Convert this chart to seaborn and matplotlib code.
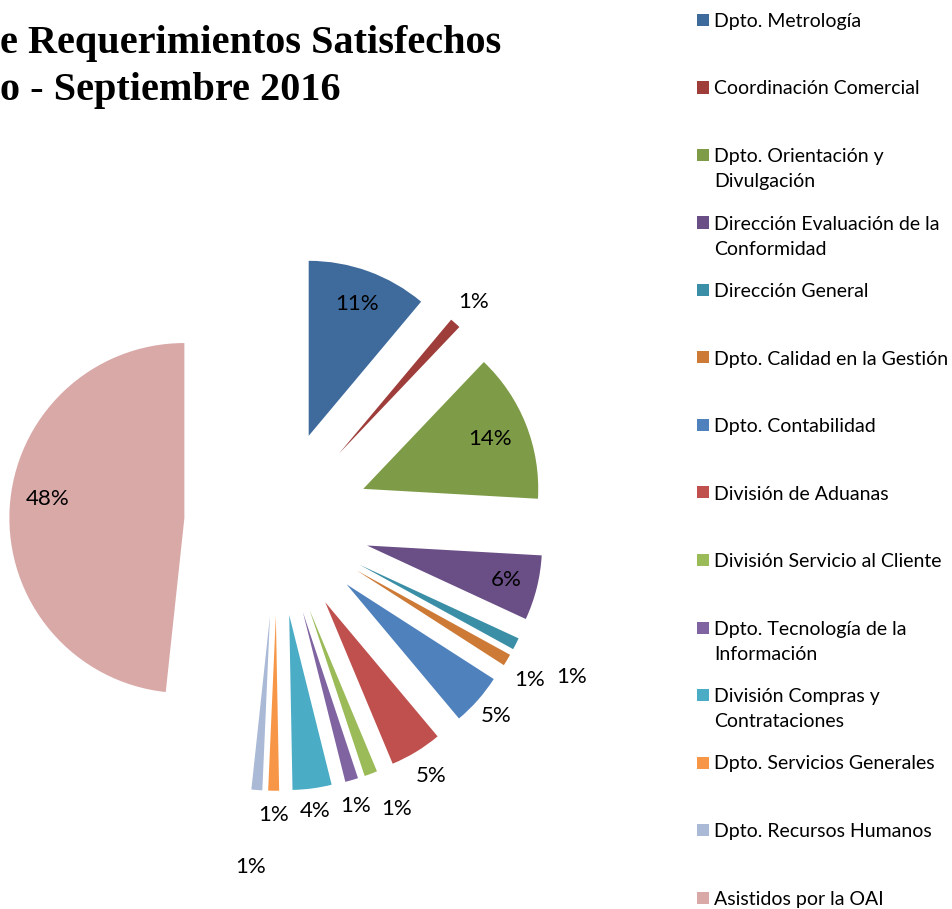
import matplotlib
matplotlib.use("Agg")
import matplotlib.pyplot as plt
import matplotlib.patches as mpatches
import numpy as np
import seaborn as sns

# --- datos (porcentaje de requerimientos) ---
areas = [
    "Dpto. Metrología",
    "Coordinación Comercial",
    "Dpto. Orientación y\nDivulgación",
    "Dirección Evaluación de la\nConformidad",
    "Dirección General",
    "Dpto. Calidad en la Gestión",
    "Dpto. Contabilidad",
    "División de Aduanas",
    "División Servicio al Cliente",
    "Dpto. Tecnología de la\nInformación",
    "División Compras y\nContrataciones",
    "Dpto. Servicios Generales",
    "Dpto. Recursos Humanos",
    "Asistidos por la OAI",
]
porcentajes = [11.1, 1.0, 13.8, 6.0, 1.1, 1.1, 4.8, 4.8, 1.2, 1.2, 3.6, 1.0, 1.0, 48.3]
etiquetas = ["11%", "1%", "14%", "6%", "1%", "1%", "5%", "5%", "1%", "1%", "4%", "1%", "1%", "48%"]

colores = ["#3F6A9C", "#9E3D3A", "#7E9B47", "#6A4F87", "#3A8FA6", "#CD7A36",
           "#4F81BD", "#C0504D", "#9BBB59", "#8064A2", "#4BACC6", "#F79646",
           "#A9B9D6", "#D9A9A8"]
# posición de cada etiqueta: distancia desde el vértice (en radios) y giro en grados
dist_etiqueta = [0.80, 1.16, 0.78, 0.82, 1.37, 1.17, 1.14, 1.16, 1.24, 1.15, 1.13, 1.14, 1.44, 0.79]
giro_etiqueta = [0, 0, 0, 0, -1, -1.5, 0, 0, 3, -1, 0, 0, 0, -5]

sns.set_theme(style="white")
plt.rcParams["font.family"] = ["Lato", "DejaVu Sans"]
plt.rcParams["text.color"] = "black"

W, H = 952, 909
fig = plt.figure(figsize=(W / 100, H / 100), dpi=100)
ax = fig.add_axes([0, 0, 1, 1])

paleta = sns.color_palette(colores)
wedges, _ = ax.pie(porcentajes, colors=paleta, startangle=90, counterclock=False,
                   explode=[0.53] * len(porcentajes), radius=1.0,
                   wedgeprops=dict(linewidth=0))

for w, txt, d, g in zip(wedges, etiquetas, dist_etiqueta, giro_etiqueta):
    ang = np.deg2rad((w.theta1 + w.theta2) / 2 + g)
    cx, cy = w.center
    ax.text(cx + d * w.r * np.cos(ang), cy + d * w.r * np.sin(ang), txt,
            ha="center", va="center", fontsize=16, color="black")

# centro del pastel en (277, 523) px, radio 175 px
cx_px, cy_px, r_px = 277, 523, 175
ax.set_xlim(-cx_px / r_px, (W - cx_px) / r_px)
ax.set_ylim((cy_px - H) / r_px, cy_px / r_px)
ax.set_aspect("auto")
ax.axis("off")

# título (recortado por el borde izquierdo, como en el original)
fig.text(0 / W, 1 - 53 / H, "e Requerimientos Satisfechos", ha="left", va="baseline",
         fontsize=29, fontweight="bold", color="black",
         family=["Liberation Serif", "DejaVu Serif"])
fig.text(0 / W, 1 - 100 / H, "o - Septiembre 2016", ha="left", va="baseline",
         fontsize=29, fontweight="bold", color="black",
         family=["Liberation Serif", "DejaVu Serif"])

# leyenda a la derecha, una casilla fija por entrada
y0, paso = 20, 67.5
for i, (nombre, col) in enumerate(zip(areas, paleta)):
    y = y0 + i * paso
    fig.patches.append(mpatches.Rectangle((697 / W, 1 - (y + 6) / H), 12 / W, 12 / H,
                                          transform=fig.transFigure, facecolor=col,
                                          edgecolor="none"))
    fig.text(714 / W, 1 - (y - 7) / H, nombre, ha="left", va="top", fontsize=14,
             linespacing=1.6, color="black")

fig.savefig("out.png", dpi=100)
